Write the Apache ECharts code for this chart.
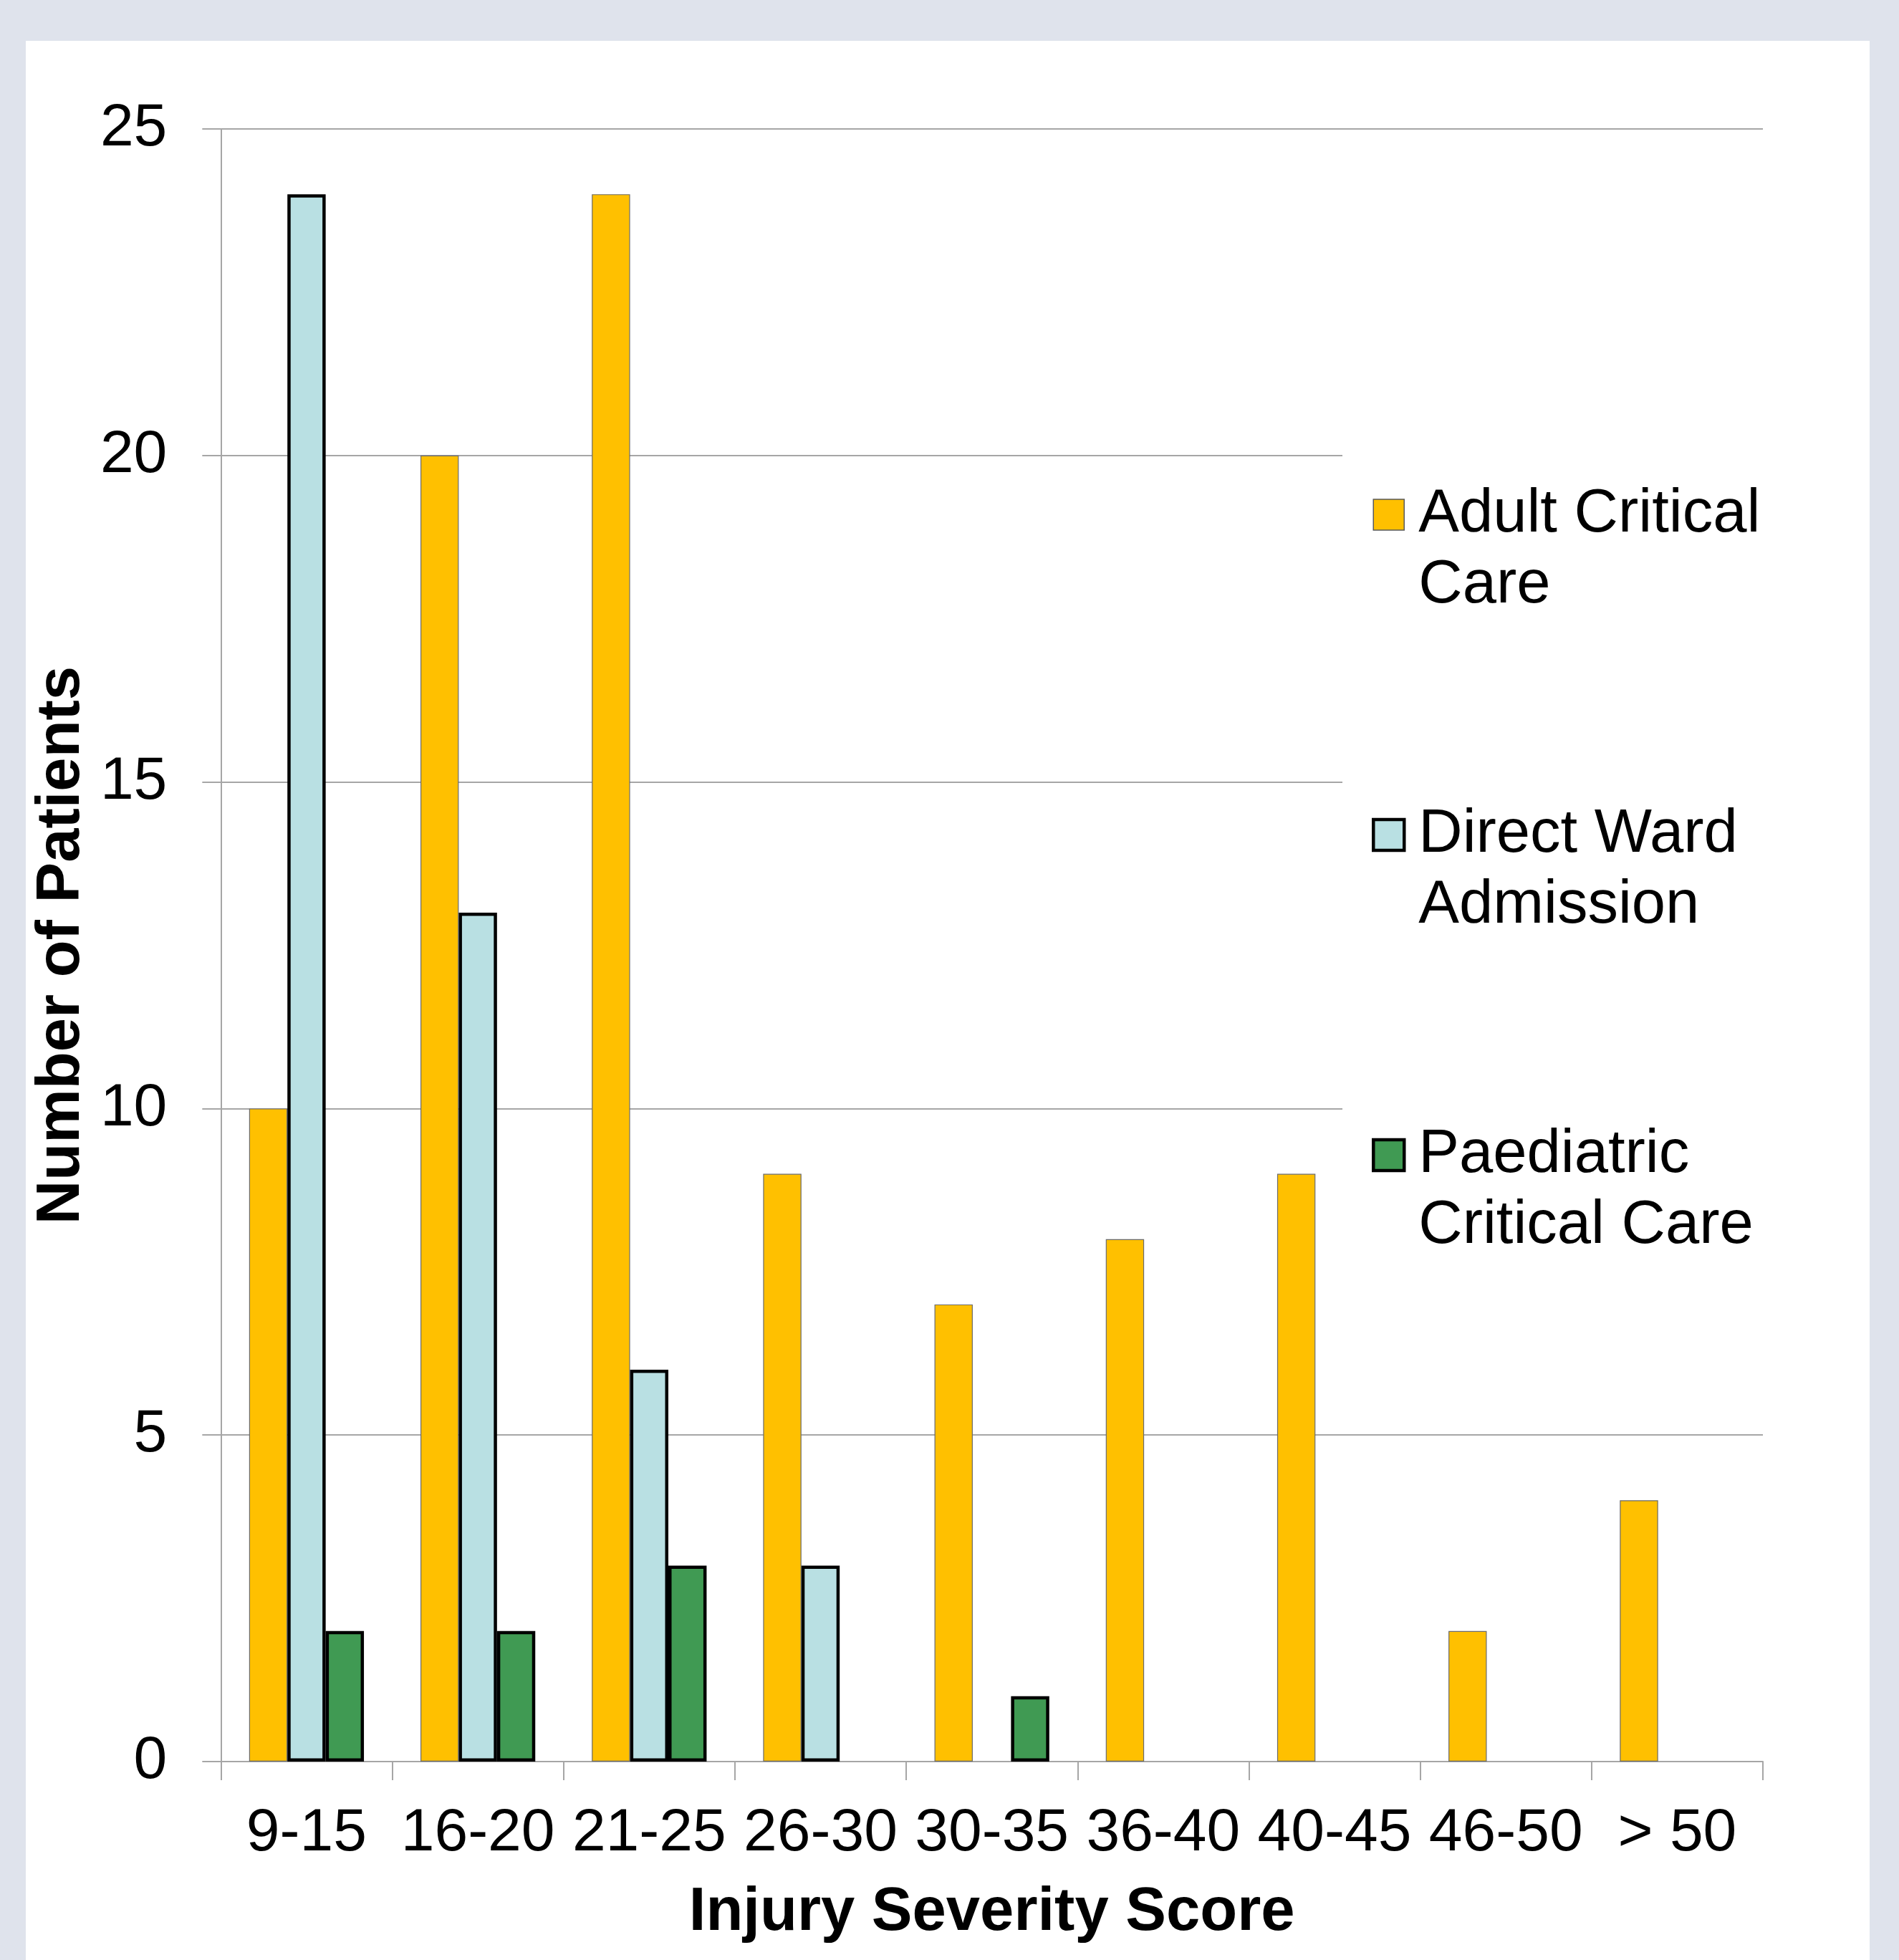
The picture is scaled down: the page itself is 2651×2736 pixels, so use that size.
<!DOCTYPE html>
<html>
<head>
<meta charset="utf-8">
<script src="https://cdn.jsdelivr.net/npm/echarts@6/dist/echarts.min.js"></script>
<style>
  html, body { margin: 0; padding: 0; background: #dfe3ec; }
  #panel { position: absolute; left: 36px; top: 57px; width: 2574px; height: 2679px; background: #ffffff; }
  #chart { width: 100%; height: 100%; }
</style>
</head>
<body>
<div id="panel"><div id="chart"></div></div>
<script>
const categories = ['9-15', '16-20', '21-25', '26-30', '30-35', '36-40', '40-45', '46-50', '> 50'];
const adultCriticalCare = [10, 20, 24, 9, 7, 8, 9, 2, 4];
const directWardAdmission = [24, 13, 6, 3, null, null, null, null, null];
const paediatricCriticalCare = [2, 2, 3, null, 1, null, null, null, null];
const yTicks = [0, 5, 10, 15, 20, 25];
const seriesNames = ['Adult Critical\nCare', 'Direct Ward\nAdmission', 'Paediatric\nCritical Care'];

const FONT = "'Liberation Sans', Arial, sans-serif";
const GRAY = '#a6a6a6';
const LH = 99;

const chart = echarts.init(document.getElementById('chart'), null, { renderer: 'canvas' });
chart.setOption({
  animation: false,
  backgroundColor: '#ffffff',
  grid: { left: 272, right: 149, top: 123, bottom: 277, containLabel: false },
  legend: {
    orient: 'vertical',
    left: 1838,
    top: 503,
    padding: [10, 10, 10, 41],
    backgroundColor: '#ffffff',
    itemWidth: 43,
    itemHeight: 43,
    itemGap: 150,
    icon: 'rect',
    selectedMode: false,
    formatter: function (name) { return '\n' + name; },
    textStyle: {
      fontFamily: FONT,
      fontSize: 85,
      color: '#000000',
      lineHeight: LH,
      padding: [0, 0, 0, 15]
    },
    data: [
      { name: seriesNames[0], itemStyle: { borderWidth: 1.5, borderColor: '#5a5a5a' } },
      { name: seriesNames[1], itemStyle: { borderWidth: 4.5, borderColor: '#000000' } },
      { name: seriesNames[2], itemStyle: { borderWidth: 4.5, borderColor: '#000000' } }
    ]
  },
  xAxis: {
    type: 'category',
    data: categories,
    boundaryGap: true,
    name: 'Injury Severity Score',
    nameLocation: 'middle',
    nameGap: 169,
    nameTextStyle: { fontFamily: FONT, fontSize: 85, fontWeight: 'bold', color: '#000000' },
    axisLine: { show: true, lineStyle: { color: GRAY, width: 2 } },
    axisTick: { show: true, interval: 0, length: 26, lineStyle: { color: GRAY, width: 2 } },
    axisLabel: { interval: 0, margin: 59, fontFamily: FONT, fontSize: 84, color: '#000000' },
    splitLine: { show: false }
  },
  yAxis: {
    type: 'value',
    min: 0,
    max: 25,
    interval: 5,
    name: 'Number of Patients',
    nameLocation: 'middle',
    nameGap: 151,
    nameTextStyle: { fontFamily: FONT, fontSize: 85, fontWeight: 'bold', color: '#000000' },
    axisLine: { show: true, lineStyle: { color: GRAY, width: 2 } },
    axisTick: { show: true, length: 26, lineStyle: { color: GRAY, width: 2 } },
    axisLabel: {
      margin: 75, fontFamily: FONT, fontSize: 84, color: '#000000',
      formatter: function (v) { return yTicks.indexOf(v) >= 0 ? String(v) : ''; }
    },
    splitLine: { show: true, lineStyle: { color: GRAY, width: 2 } }
  },
  series: [
    {
      name: seriesNames[0], type: 'bar', data: adultCriticalCare,
      barGap: '0%', barCategoryGap: '33%',
      itemStyle: { color: '#ffc000', borderColor: '#6b6b6b', borderWidth: 1.2 }
    },
    {
      name: seriesNames[1], type: 'bar', data: directWardAdmission,
      barGap: '0%', barCategoryGap: '33%',
      itemStyle: { color: '#b9e0e3', borderColor: '#000000', borderWidth: 4.5 }
    },
    {
      name: seriesNames[2], type: 'bar', data: paediatricCriticalCare,
      barGap: '0%', barCategoryGap: '33%',
      itemStyle: { color: '#409a53', borderColor: '#000000', borderWidth: 4.5 }
    }
  ]
});
</script>
</body>
</html>
